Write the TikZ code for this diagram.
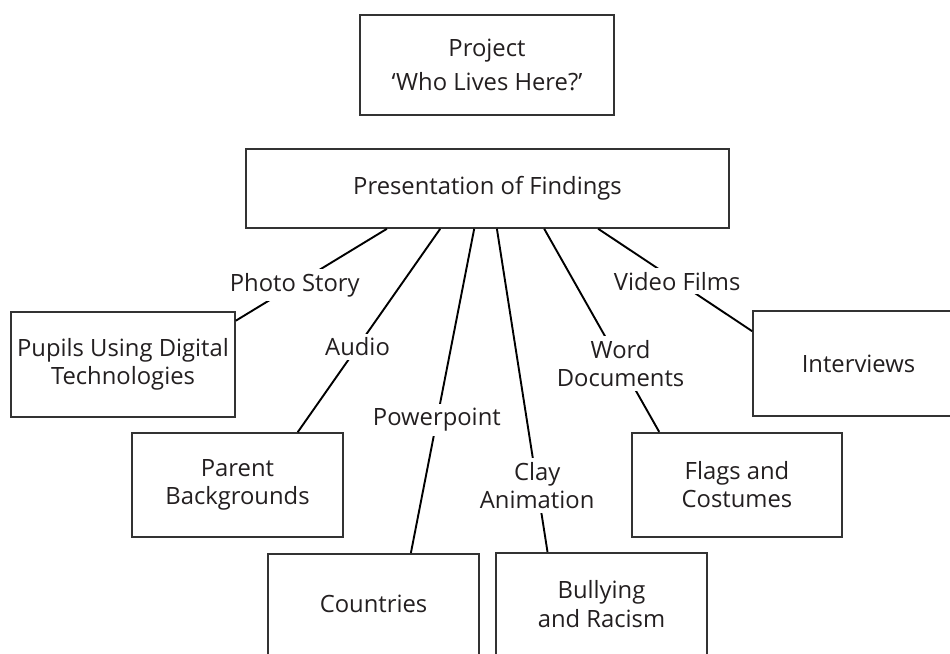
\documentclass[tikz,border=0pt]{standalone}
\usepackage{fontspec}
\setmainfont{Open Sans}
\usetikzlibrary{calc}
\definecolor{ink}{HTML}{231F20}
\definecolor{edge}{HTML}{333333}
\begin{document}
\begin{tikzpicture}[x=1pt,y=-1pt,
  txt/.style={font=\fontsize{23.8}{28.5}\selectfont, text=ink, align=center},
  box/.style={txt, rectangle, draw=edge, line width=1.6pt, inner sep=0pt},
  conn/.style={draw=black, line width=1.9pt},
  lab/.style={txt, fill=white, inner sep=4pt}]
\useasboundingbox (0,0) rectangle (950,653);
\fill[white] (0,0) rectangle (950,653);
\clip (0,0) rectangle (950,653);
% boxes
\node[box, minimum width=254, minimum height=100] (project) at (487,65) {Project\\[5pt]‘Who Lives Here?’};
\node[box, minimum width=483, minimum height=79] (pres) at (487.5,188.5) {Presentation of Findings};
\node[box, minimum width=224, minimum height=105] (pupils) at (123,364.5) {Pupils Using Digital\\Technologies};
\node[box, minimum width=211, minimum height=104] (parent) at (237.5,485) {Parent\\Backgrounds};
\node[box, minimum width=211, minimum height=100.6] (countries) at (373.5,604) {Countries};
\node[box, minimum width=211, minimum height=102.6] (bully) at (601.5,604) {Bullying\\and Racism};
\node[box, minimum width=210, minimum height=104] (flags) at (737,484.7) {Flags and\\Costumes};
\node[box, minimum width=211, minimum height=105] (interviews) at (858.5,363.5) {Interviews};
% connectors with labels
\draw[conn] ($(pres.south west)+(141.7,0)$) -- node[lab, pos=0.61] (lphoto) {Photo Story} ($(pupils.north east)+(0,9.5)$);
\draw[conn] ($(pres.south west)+(195,0)$) -- node[lab, pos=0.58] (laudio) {Audio} ($(parent.north west)+(166.5,0)$);
\draw[conn] ($(pres.south west)+(229,0)$) -- node[lab, pos=0.59] (lppt) {Powerpoint} ($(countries.north west)+(143.7,0)$);
\draw[conn] ($(pres.south west)+(251.7,0)$) -- node[lab, pos=0.795] (lclay) {Clay\\Animation} ($(bully.north west)+(52.3,0)$);
\draw[conn] ($(pres.south west)+(299,0)$) -- node[lab, pos=0.664] (lword) {Word\\Documents} ($(flags.north west)+(28,0)$);
\draw[conn] ($(pres.south west)+(353,0)$) -- node[lab, pos=0.513] (lvideo) {Video Films} ($(interviews.north west)+(0,21)$);
\end{tikzpicture}
\end{document}
